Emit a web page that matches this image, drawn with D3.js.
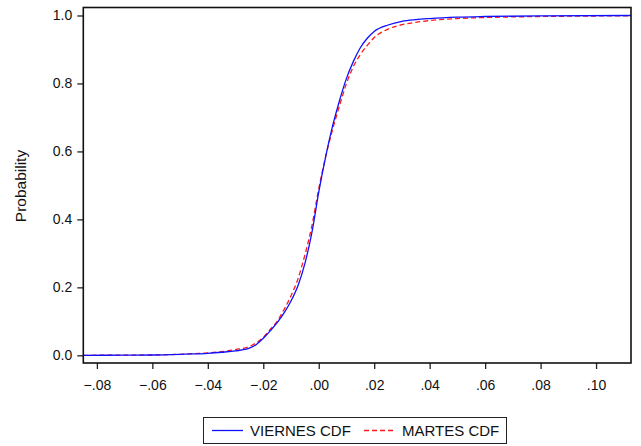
<!DOCTYPE html>
<html><head><meta charset="utf-8">
<script src="https://cdn.jsdelivr.net/npm/d3@7/dist/d3.min.js"></script>
<style>body{margin:0;background:#fff}svg{display:block}text{font-family:"Liberation Sans",Arial,sans-serif}</style>
</head><body><svg id="c" width="641" height="446"></svg>
<script>
const xVals = [-0.0849,-0.07,-0.06,-0.05,-0.045,-0.04,-0.035,-0.03,-0.025,-0.0225,-0.02,-0.0175,-0.015,-0.0125,-0.01,-0.0075,-0.005,-0.0025,0,0.0025,0.005,0.0075,0.01,0.0125,0.015,0.0175,0.02,0.025,0.03,0.035,0.04,0.05,0.06,0.08,0.1126];
const viernes = [0,0.0005,0.001,0.003,0.004,0.006,0.009,0.013,0.021,0.032,0.05,0.072,0.096,0.125,0.16,0.205,0.27,0.36,0.48,0.585,0.675,0.75,0.815,0.865,0.905,0.933,0.953,0.972,0.983,0.988,0.991,0.995,0.997,0.999,1.0];
const martes = [0,0.0005,0.001,0.003,0.005,0.007,0.011,0.017,0.026,0.037,0.053,0.076,0.10,0.135,0.175,0.225,0.295,0.38,0.49,0.585,0.665,0.735,0.80,0.85,0.885,0.912,0.935,0.96,0.973,0.98,0.985,0.991,0.994,0.997,0.999];
const xTicks = [-0.08,-0.06,-0.04,-0.02,0,0.02,0.04,0.06,0.08,0.10];
const yTicks = [0,0.2,0.4,0.6,0.8,1.0];
const seriesNames = ["VIERNES CDF","MARTES CDF"];

const svg = d3.select("#c");
const L=83.3,R=631,T=7.5,B=363;
const x = d3.scaleLinear().domain([-0.0849,0.1126]).range([L,R]);
const y = d3.scaleLinear().domain([-0.0226,1.0235]).range([B,T]);

const fmtX = d => { if (Math.abs(d)<1e-9) return ".00"; const s=d3.format(".2f")(d); return s.replace("0.","."); };
const gx = svg.append("g").attr("transform",`translate(0,${B})`)
  .call(d3.axisBottom(x).tickValues(xTicks).tickFormat(fmtX).tickSize(6).tickSizeOuter(0));
const gy = svg.append("g").attr("transform",`translate(${L},0)`)
  .call(d3.axisLeft(y).tickValues(yTicks).tickFormat(d3.format(".1f")).tickSize(6).tickSizeOuter(0));
[gx,gy].forEach(g=>{g.select(".domain").remove();g.selectAll("text").attr("font-size",14).attr("fill","#111").attr("font-family","Liberation Sans, Arial, sans-serif");g.selectAll("line").attr("stroke","#222").attr("stroke-width",1.3);});
gx.selectAll("text").attr("y",27).attr("dy",0);
gy.selectAll("text").attr("x",-11);

const line = s => d3.line().curve(d3.curveMonotoneX).x((d,i)=>x(xVals[i])).y(d=>y(d))(s);
svg.append("path").attr("d",line(martes)).attr("fill","none").attr("stroke","#ff1a1a").attr("stroke-width",1.3).attr("stroke-dasharray","5,3");
svg.append("path").attr("d",line(viernes)).attr("fill","none").attr("stroke","#1010ff").attr("stroke-width",1.3);

svg.append("rect").attr("x",L).attr("y",T).attr("width",R-L).attr("height",B-T).attr("fill","none").attr("stroke","#111").attr("stroke-width",1.6);

svg.append("text").attr("transform","translate(26,186) rotate(-90)").attr("text-anchor","middle").attr("font-size",15.5).attr("fill","#111").text("Probability");

const lg = svg.append("g");
lg.append("rect").attr("x",203.5).attr("y",417.5).attr("width",303).attr("height",26).attr("fill","#fff").attr("stroke","#222").attr("stroke-width",1);
lg.append("line").attr("x1",212).attr("x2",243).attr("y1",430.5).attr("y2",430.5).attr("stroke","#1010ff").attr("stroke-width",1.3);
lg.append("text").attr("x",250).attr("y",436).attr("font-size",15).attr("fill","#111").text(seriesNames[0]);
lg.append("line").attr("x1",364).attr("x2",393).attr("y1",430.5).attr("y2",430.5).attr("stroke","#ff1a1a").attr("stroke-width",1.3).attr("stroke-dasharray","5,3");
lg.append("text").attr("x",402).attr("y",436).attr("font-size",15).attr("fill","#111").text(seriesNames[1]);
</script></body></html>
